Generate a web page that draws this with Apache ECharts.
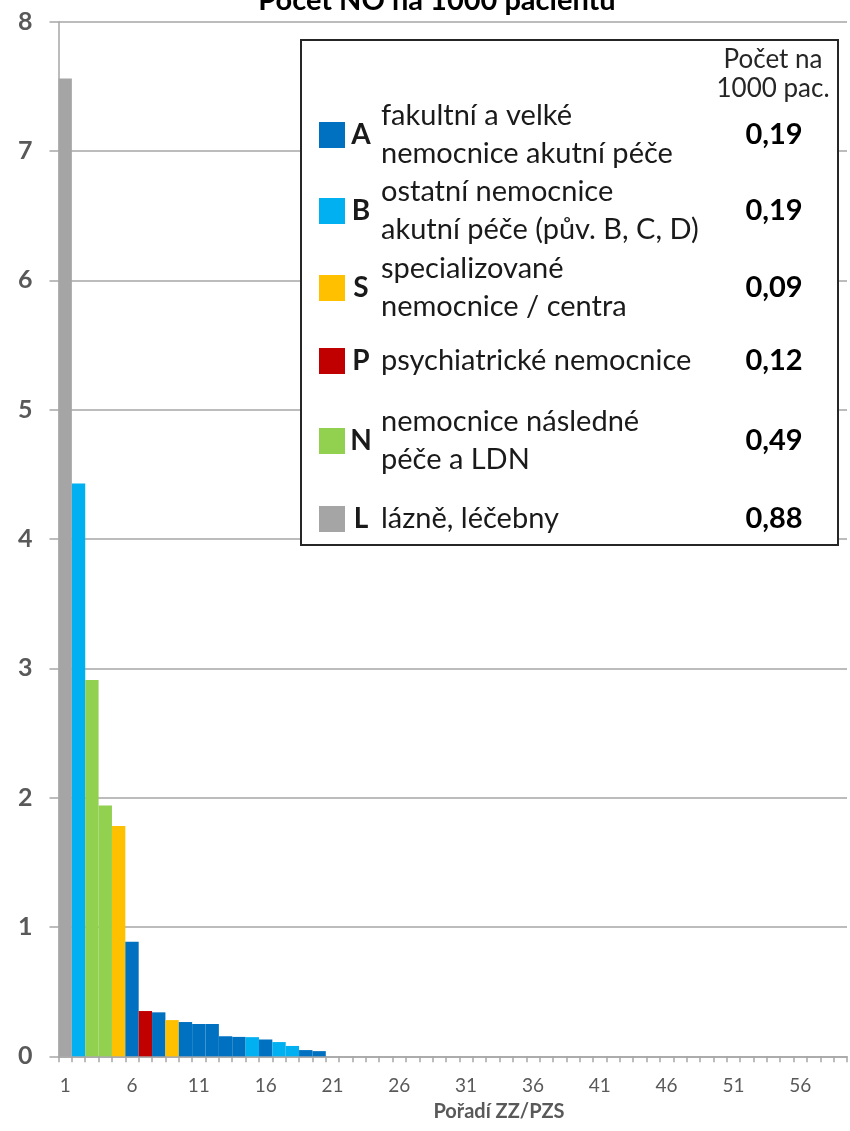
<!DOCTYPE html>
<html>
<head>
<meta charset="utf-8">
<script src="https://cdn.jsdelivr.net/npm/echarts@6/dist/echarts.min.js"></script>
<style>
html,body{margin:0;padding:0;background:#fff;}
#chart{width:850px;height:1131px;}
</style>
</head>
<body>
<div id="chart"></div>
<script>
// ---- data ----
const categories = ["1","2","3","4","5","6","7","8","9","10","11","12","13","14","15","16","17","18","19","20","21","22","23","24","25","26","27","28","29","30","31","32","33","34","35","36","37","38","39","40","41","42","43","44","45","46","47","48","49","50","51","52","53","54","55","56","57","58","59"];
const values = [7.56, 4.43, 2.91, 1.94, 1.78, 0.885, 0.35, 0.34, 0.28, 0.265, 0.25, 0.25, 0.155, 0.15, 0.148, 0.13, 0.11, 0.08, 0.048, 0.04,
  0,0,0,0,0,0,0,0,0,0,0,0,0,0,0,0,0,0,0,0,0,0,0,0,0,0,0,0,0,0,0,0,0,0,0,0,0,0,0];
const types = ["L","B","N","N","S","A","P","A","S","A","A","A","A","A","B","A","B","B","A","A"];
const legendCodes = ["A","B","S","P","N","L"];
const legendNames = [
  ["fakultní a velké","nemocnice akutní péče"],
  ["ostatní nemocnice","akutní péče (pův. B, C, D)"],
  ["specializované","nemocnice / centra"],
  ["psychiatrické nemocnice"],
  ["nemocnice následné","péče a LDN"],
  ["lázně, léčebny"]
];
const legendValues = ["0,19","0,19","0,09","0,12","0,49","0,88"];
const legendHeader = ["Počet na","1000 pac."];
const titleText = "Počet NO na 1000 pacientů";
const xAxisTitle = "Pořadí ZZ/PZS";

// ---- styles ----
const typeColors = {A:"#0070C0",B:"#00B0F0",S:"#FFC000",P:"#C00000",N:"#92D050",L:"#A5A5A5"};
const FONT = "Lato";
const gray = "#A6A6A6";
const labelColor = "#595959";

const chart = echarts.init(document.getElementById("chart"), null, {renderer:"canvas"});

const barData = values.map((v,i)=>({
  value: v,
  itemStyle: {color: typeColors[types[i]] || "#0070C0"}
}));

// legend graphics
const box = {x:301, y:40, w:537, h:505};
const rowCenters = [135, 211, 288, 361, 441, 519];
const legendEls = [];
legendEls.push({type:"rect", shape:{x:box.x, y:box.y, width:box.w, height:box.h},
  style:{fill:"#fff", stroke:"#262626", lineWidth:2}, z:100});
legendEls.push({type:"text", x:773, y:60, style:{text:legendHeader[0], font:"26px "+FONT, fill:"#262626", align:"center", verticalAlign:"middle"}, z:101});
legendEls.push({type:"text", x:773, y:89, style:{text:legendHeader[1], font:"26px "+FONT, fill:"#262626", align:"center", verticalAlign:"middle"}, z:101});
legendCodes.forEach((c,i)=>{
  const cy = rowCenters[i];
  legendEls.push({type:"rect", shape:{x:319, y:cy-13, width:26, height:26}, style:{fill:typeColors[c]}, z:101});
  legendEls.push({type:"text", x:361, y:cy, style:{text:c, font:"bold 28px "+FONT, fill:"#1a1a1a", align:"center", verticalAlign:"middle"}, z:101});
  const lines = legendNames[i];
  lines.forEach((t,j)=>{
    const ly = lines.length===1 ? cy : cy + (j===0 ? -19 : 19);
    legendEls.push({type:"text", x:381, y:ly, style:{text:t, font:"29px "+FONT, fill:"#1a1a1a", align:"left", verticalAlign:"middle"}, z:101});
  });
  legendEls.push({type:"text", x:774, y:cy, style:{text:legendValues[i], font:"bold 29px "+FONT, fill:"#000", align:"center", verticalAlign:"middle"}, z:101});
});

const option = {
  backgroundColor:"#fff",
  animation:false,
  grid:{left:58.5, right:3, top:21.7, bottom:74.7, containLabel:false},
  xAxis:{
    type:"category",
    data:categories,
    boundaryGap:true,
    axisLine:{show:true, lineStyle:{color:gray, width:1.5}},
    axisTick:{show:true, interval:0, alignWithLabel:false, length:6, lineStyle:{color:gray, width:1.5}},
    axisLabel:{interval:4, margin:20, fontFamily:FONT, fontSize:19, color:labelColor},
    splitLine:{show:false}
  },
  yAxis:{
    type:"value",
    min:0, max:8, interval:1,
    axisLine:{show:true, lineStyle:{color:gray, width:1.5}},
    axisTick:{show:true, inside:false, length:9, lineStyle:{color:gray, width:1.5}},
    axisLabel:{margin:26, fontFamily:FONT, fontSize:25, fontWeight:"bold", color:labelColor},
    splitLine:{show:true, lineStyle:{color:gray, width:1.5}}
  },
  series:[{
    type:"bar",
    data:barData,
    barCategoryGap:"0%",
    barGap:"0%",
    itemStyle:{borderWidth:0}
  }],
  graphic:[
    {type:"text", x:437, y:1, style:{text:titleText, font:"bold 29px "+FONT, fill:"#000", align:"center", verticalAlign:"middle"}, z:50},
    {type:"text", x:499, y:1112, style:{text:xAxisTitle, font:"bold 20px "+FONT, fill:labelColor, align:"center", verticalAlign:"middle"}, z:50},
    ...legendEls
  ]
};
chart.setOption(option);
</script>
</body>
</html>
